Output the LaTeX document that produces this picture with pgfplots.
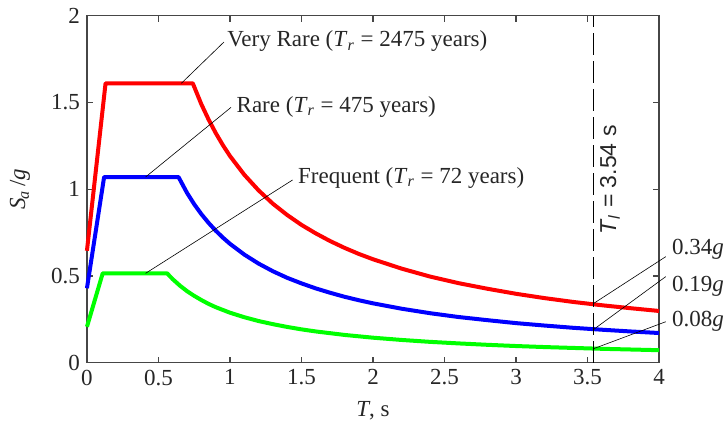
\documentclass[border=0pt]{standalone}
\usepackage{pgfplots}
\pgfplotsset{compat=1.18}
\usepackage{fontspec}
\setmainfont{Liberation Serif}
\newfontfamily\sansf{Liberation Sans}

\definecolor{axisgray}{RGB}{70,70,70}

\begin{document}
\begin{tikzpicture}
\begin{axis}[
  scale only axis,
  width=286pt, height=173.5pt,
  xmin=0, xmax=4, ymin=0, ymax=2,
  xtick={0,0.5,1,1.5,2,2.5,3,3.5,4},
  ytick={0,0.5,1,1.5,2},
  tick align=inside,
  major tick length=3pt,
  axis line style={axisgray, line width=0.8pt},
  every tick/.style={axisgray, line width=0.6pt},
  tick label style={font=\fontsize{11.5}{13}\selectfont, text=black!85},
  /pgf/number format/assume math mode=true,
  xlabel={\textit{T}, s},
  ylabel={\textit{S}\textsubscript{\kern-0.5pt\textit{a}}\,/\textit{g}},
  label style={font=\fontsize{11.5}{13}\selectfont, text=black!85},
  xlabel style={at={(axis description cs:0.5,-0.138)}, anchor=center},
  ylabel style={at={(axis description cs:-0.117,0.5)}, anchor=center},
  clip=false,
  every axis plot/.append style={line width=2pt, line join=round},
]

% Very rare event (Tr = 2475 years)
\addplot[red] coordinates {
  (0,0.645) (0.13,1.61) (0.74,1.61) (0.8,1.489) (0.85,1.402) (0.9,1.324)
  (0.95,1.254) (1.0,1.191) (1.1,1.083) (1.2,0.993) (1.3,0.916) (1.4,0.851)
  (1.5,0.794) (1.6,0.745) (1.7,0.701) (1.8,0.662) (1.9,0.627) (2.0,0.596)
  (2.2,0.542) (2.4,0.496) (2.6,0.458) (2.8,0.426) (3.0,0.397) (3.2,0.372)
  (3.4,0.350) (3.6,0.331) (3.8,0.314) (4.0,0.298)
};

% Rare event (Tr = 475 years)
\addplot[blue] coordinates {
  (0,0.429) (0.12,1.07) (0.64,1.07) (0.7,0.978) (0.75,0.913) (0.8,0.856)
  (0.85,0.806) (0.9,0.761) (0.95,0.721) (1.0,0.685) (1.1,0.623) (1.2,0.571)
  (1.3,0.527) (1.4,0.489) (1.5,0.457) (1.6,0.428) (1.7,0.403) (1.8,0.380)
  (1.9,0.360) (2.0,0.342) (2.2,0.311) (2.4,0.285) (2.6,0.263) (2.8,0.245)
  (3.0,0.228) (3.2,0.214) (3.4,0.201) (3.6,0.190) (3.8,0.180) (4.0,0.171)
};

% Frequent event (Tr = 72 years)
\addplot[green] coordinates {
  (0,0.207) (0.11,0.515) (0.56,0.515) (0.6,0.481) (0.65,0.444) (0.7,0.412)
  (0.75,0.385) (0.8,0.361) (0.85,0.339) (0.9,0.320) (1.0,0.288) (1.1,0.262)
  (1.2,0.240) (1.3,0.222) (1.4,0.206) (1.5,0.192) (1.6,0.180) (1.7,0.170)
  (1.8,0.160) (1.9,0.152) (2.0,0.144) (2.2,0.131) (2.4,0.120) (2.6,0.111)
  (2.8,0.103) (3.0,0.096) (3.2,0.090) (3.4,0.085) (3.6,0.080) (3.8,0.076)
  (4.0,0.072)
};

% Long-period corner
\addplot[black, line width=0.6pt, dash pattern=on 11pt off 3pt] coordinates {(3.54,0) (3.54,2)};

% Leader lines and labels
\begin{scope}[every node/.style={font=\fontsize{11.5}{13}\selectfont, text=black!85, inner sep=1pt}]
  \draw[black, line width=0.3pt] (axis cs:0.66,1.61) -- (axis cs:0.958,1.848);
  \node[anchor=west] at (axis cs:0.965,1.853) {Very Rare (\textit{T}\textsubscript{\textit{r}} = 2475 years)};
  \draw[black, line width=0.3pt] (axis cs:0.41,1.07) -- (axis cs:1.007,1.471);
  \node[anchor=west] at (axis cs:1.03,1.474) {Rare (\textit{T}\textsubscript{\textit{r}} = 475 years)};
  \draw[black, line width=0.3pt] (axis cs:0.41,0.515) -- (axis cs:1.438,1.053);
  \node[anchor=west] at (axis cs:1.46,1.065) {Frequent (\textit{T}\textsubscript{\textit{r}} = 72 years)};

  \draw[black, line width=0.3pt] (axis cs:3.54,0.34) -- (axis cs:4.047,0.611);
  \node[anchor=west] at (axis cs:4.075,0.655) {0.34\textit{g}};
  \draw[black, line width=0.3pt] (axis cs:3.54,0.19) -- (axis cs:4.047,0.496);
  \node[anchor=west] at (axis cs:4.075,0.442) {0.19\textit{g}};
  \draw[black, line width=0.3pt] (axis cs:3.54,0.08) -- (axis cs:4.047,0.236);
  \node[anchor=west] at (axis cs:4.075,0.236) {0.08\textit{g}};

  \node[rotate=90, font=\sansf\fontsize{11.5}{13}\selectfont] at (axis cs:3.657,1.053)
    {\textit{T}\textsubscript{\textit{l}} = 3.54 s};
\end{scope}

% Page extent
\path (rel axis cs:-0.152,-0.185) rectangle (rel axis cs:1.117,1.045);
\end{axis}
\end{tikzpicture}
\end{document}
